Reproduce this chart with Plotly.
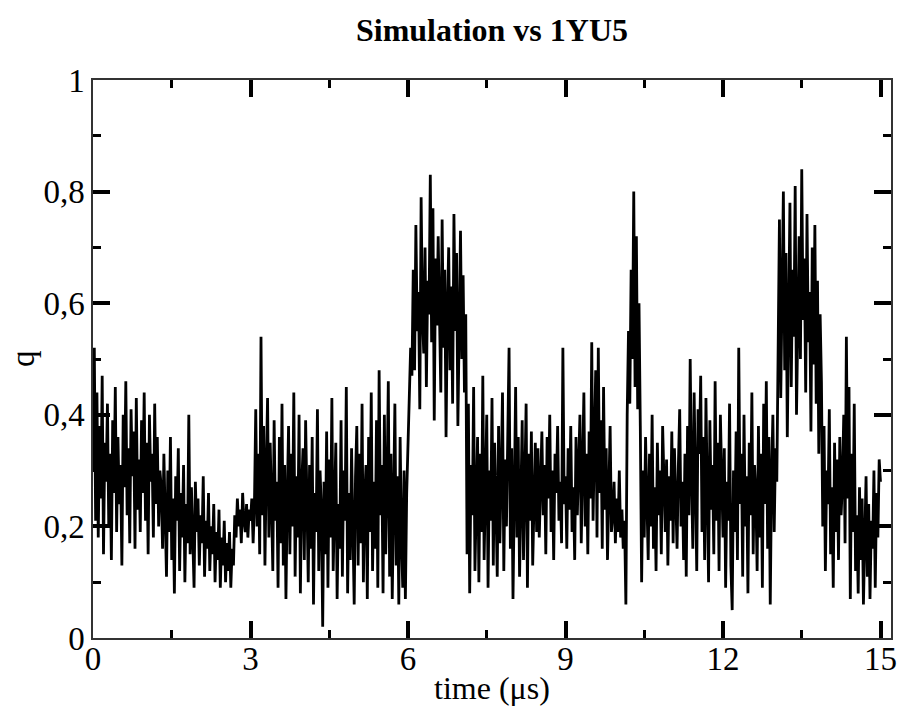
import numpy as np
import plotly.graph_objects as go

# q values, sampled every 0.025 µs, split by 3 µs blocks
q_0_3 = [0.30, 0.52, 0.21, 0.44, 0.18, 0.38, 0.25, 0.47, 0.15, 0.35, 0.28, 0.42, 0.20, 0.33, 0.14, 0.39, 0.26, 0.45, 0.19, 0.36,
         0.24, 0.31, 0.13, 0.40, 0.27, 0.46, 0.22, 0.34, 0.17, 0.41, 0.29, 0.37, 0.16, 0.43, 0.23, 0.32, 0.19, 0.39, 0.26, 0.44,
         0.21, 0.35, 0.15, 0.40, 0.28, 0.33, 0.18, 0.42, 0.24, 0.36, 0.20, 0.30,
         0.27, 0.16, 0.33, 0.22, 0.11, 0.30, 0.19, 0.36, 0.14, 0.25, 0.08, 0.29, 0.21, 0.34, 0.12, 0.26, 0.18, 0.31, 0.10, 0.24,
         0.17, 0.40, 0.15, 0.27, 0.20, 0.09, 0.28, 0.19,
         0.25, 0.13, 0.22, 0.17, 0.29, 0.11, 0.21, 0.16, 0.26, 0.12, 0.20, 0.15, 0.24, 0.10, 0.19, 0.14, 0.23, 0.09, 0.18, 0.13,
         0.21, 0.10, 0.17, 0.12, 0.19, 0.09, 0.16, 0.13,
         0.22, 0.18, 0.25, 0.20, 0.23, 0.17, 0.26, 0.21, 0.19, 0.24, 0.18, 0.23]

q_3_6 = [0.21, 0.25, 0.17, 0.24,
         0.41, 0.20, 0.33, 0.15, 0.54, 0.22, 0.38, 0.13, 0.30, 0.43, 0.18, 0.35, 0.24, 0.12, 0.39, 0.21,
         0.28, 0.09, 0.36, 0.17, 0.42, 0.13, 0.31, 0.07, 0.25, 0.38, 0.15, 0.33, 0.20, 0.44, 0.11, 0.29, 0.18, 0.40, 0.08, 0.27,
         0.34, 0.14, 0.39, 0.22, 0.10, 0.31, 0.16, 0.36, 0.06, 0.26, 0.19, 0.41, 0.12, 0.30, 0.23, 0.02, 0.28, 0.15, 0.37, 0.09,
         0.32, 0.18, 0.43, 0.12, 0.27, 0.35, 0.07, 0.24, 0.16, 0.39, 0.11, 0.30, 0.21, 0.45, 0.08, 0.26, 0.14, 0.34, 0.20, 0.06,
         0.29, 0.38, 0.13, 0.33, 0.17, 0.42, 0.10, 0.25, 0.31, 0.07, 0.36, 0.19, 0.44, 0.12, 0.28, 0.16, 0.39, 0.09, 0.48, 0.22,
         0.31, 0.08, 0.40, 0.15, 0.27, 0.46, 0.11, 0.33, 0.07, 0.24, 0.42, 0.13, 0.29, 0.06, 0.36, 0.18, 0.09, 0.30, 0.07, 0.26]

q_6_9 = [0.35, 0.44, 0.52, 0.47,
         0.66, 0.48, 0.74, 0.55, 0.62, 0.41, 0.79, 0.58, 0.51, 0.70,
         0.45, 0.64, 0.58, 0.83, 0.53, 0.77, 0.39, 0.68, 0.56, 0.72,
         0.61, 0.44, 0.75, 0.52, 0.66, 0.36, 0.59, 0.70, 0.48, 0.63,
         0.42, 0.76, 0.55, 0.69, 0.38, 0.60, 0.73, 0.50, 0.65, 0.44, 0.58,
         0.15, 0.42, 0.08, 0.31, 0.22, 0.45, 0.12, 0.28, 0.36, 0.10,
         0.33, 0.19, 0.47, 0.14, 0.26, 0.40, 0.09, 0.30, 0.21, 0.43,
         0.13, 0.35, 0.24, 0.11, 0.38, 0.17, 0.29, 0.44, 0.12, 0.32,
         0.20, 0.41, 0.52, 0.16, 0.34, 0.07, 0.27, 0.45, 0.18, 0.36,
         0.11, 0.30, 0.39, 0.14, 0.25, 0.42, 0.09, 0.33, 0.21, 0.37,
         0.13, 0.28, 0.35, 0.19,
         0.34, 0.18, 0.29, 0.37, 0.22, 0.31, 0.15, 0.36, 0.25, 0.40, 0.19, 0.30, 0.14, 0.33, 0.26, 0.38, 0.21, 0.28, 0.17, 0.52, 0.24]

q_9_12 = [0.29, 0.16, 0.34, 0.23, 0.38, 0.19, 0.27, 0.14, 0.36, 0.22,
          0.31, 0.40, 0.17, 0.28, 0.44, 0.20, 0.33, 0.15, 0.37, 0.25,
          0.53, 0.21, 0.35, 0.48, 0.18, 0.52, 0.26, 0.39, 0.16, 0.45,
          0.23, 0.34, 0.14, 0.30, 0.38, 0.19,
          0.22, 0.28, 0.17, 0.25, 0.19, 0.30, 0.18, 0.23, 0.16, 0.21,
          0.06, 0.40, 0.55, 0.42, 0.66, 0.50, 0.80, 0.45, 0.72, 0.41, 0.60, 0.38,
          0.10, 0.30, 0.18, 0.36, 0.23, 0.14, 0.33, 0.20, 0.40, 0.16,
          0.27, 0.12, 0.35, 0.22, 0.30, 0.15, 0.38, 0.25, 0.19, 0.32,
          0.13, 0.29, 0.21, 0.37, 0.17, 0.34, 0.24, 0.16, 0.31, 0.41,
          0.20, 0.28, 0.14, 0.33,
          0.11, 0.38, 0.22, 0.50, 0.29, 0.16, 0.44, 0.25, 0.12, 0.41,
          0.33, 0.47, 0.19, 0.36, 0.14, 0.43, 0.27, 0.10, 0.39, 0.23,
          0.31, 0.15, 0.46, 0.21, 0.35, 0.12, 0.40, 0.26]

q_12_15 = [0.18, 0.34, 0.09, 0.28, 0.21, 0.42, 0.13, 0.05, 0.30, 0.19,
           0.37, 0.14, 0.52, 0.24, 0.33, 0.11, 0.40, 0.20, 0.29, 0.08,
           0.35, 0.22, 0.44, 0.15, 0.31, 0.26, 0.12, 0.38, 0.18, 0.33,
           0.09, 0.42, 0.24, 0.46, 0.16, 0.36, 0.06, 0.29, 0.40, 0.19,
           0.34, 0.28,
           0.52, 0.75, 0.43, 0.63, 0.80, 0.48, 0.69, 0.36, 0.58, 0.78,
           0.45, 0.66, 0.54, 0.81, 0.40, 0.61, 0.72, 0.50, 0.84, 0.57,
           0.68, 0.44, 0.76, 0.53, 0.62, 0.37, 0.70, 0.49, 0.74, 0.42,
           0.64, 0.33, 0.58, 0.46,
           0.20, 0.38, 0.12, 0.30, 0.24, 0.41, 0.15, 0.27, 0.09, 0.35, 0.19, 0.32, 0.14, 0.36, 0.22, 0.28,
           0.40, 0.17, 0.54, 0.25, 0.45, 0.07, 0.33, 0.19, 0.42, 0.12,
           0.22, 0.08, 0.27, 0.14, 0.25, 0.06, 0.20, 0.29, 0.11, 0.24, 0.07, 0.21, 0.16, 0.30, 0.09, 0.26, 0.18, 0.32, 0.28]

x_tick_vals = [0, 3, 6, 9, 12, 15]
x_tick_text = ["0", "3", "6", "9", "12", "15"]
y_tick_vals = [0, 0.2, 0.4, 0.6, 0.8, 1.0]
y_tick_text = ["0", "0,2", "0,4", "0,6", "0,8", "1"]

q = np.array(q_0_3 + q_3_6 + q_6_9 + q_9_12 + q_12_15)
t = np.linspace(0, 15, len(q))

FONT = "Liberation Serif"

fig = go.Figure()
fig.add_trace(go.Scatter(x=t, y=q, mode="lines",
                         line=dict(color="black", width=2.8), showlegend=False))

axis_common = dict(
    showline=True, linecolor="#333", linewidth=1.5, mirror="ticks",
    ticks="inside", ticklen=17, tickwidth=4, tickcolor="black",
    showgrid=False, zeroline=False, automargin=False,
    tickfont=dict(family=FONT, size=33, color="black"),
)

fig.update_xaxes(range=[0, 15.2], tickmode="array", tickvals=x_tick_vals, ticktext=x_tick_text,
                 minor=dict(ticks="inside", ticklen=8, tickwidth=3, tickcolor="black", dtick=1.5, tick0=0, showgrid=False),
                 ticklabelstandoff=-9,
                 **axis_common)
fig.update_yaxes(range=[0, 1], tickmode="array", tickvals=y_tick_vals, ticktext=y_tick_text,
                 minor=dict(ticks="inside", ticklen=8, tickwidth=3, tickcolor="black", dtick=0.2, tick0=0.1, showgrid=False),
                 **axis_common)

fig.update_layout(
    width=899, height=708,
    margin=dict(l=93, r=8, t=80, b=70, autoexpand=False),
    paper_bgcolor="white", plot_bgcolor="white",
    title=dict(text="Simulation vs 1YU5", x=0.5, xref="paper", xanchor="center",
               y=1 - 30 / 708, yref="container", yanchor="middle",
               font=dict(family=FONT, size=32, color="black", weight="bold")),
    annotations=[
        dict(text="time (μs)", xref="paper", yref="paper", x=0.5, y=0, yanchor="middle",
             yshift=-50, showarrow=False, font=dict(family=FONT, size=32, color="black")),
        dict(text="q", xref="paper", yref="paper", x=0, y=0.5, xanchor="center", textangle=-90,
             xshift=-70, showarrow=False, font=dict(family=FONT, size=33, color="black")),
    ],
)

fig.write_html("out.html", config={"displayModeBar": False},
               post_script="document.body.style.margin='0';document.body.style.overflow='hidden';")
